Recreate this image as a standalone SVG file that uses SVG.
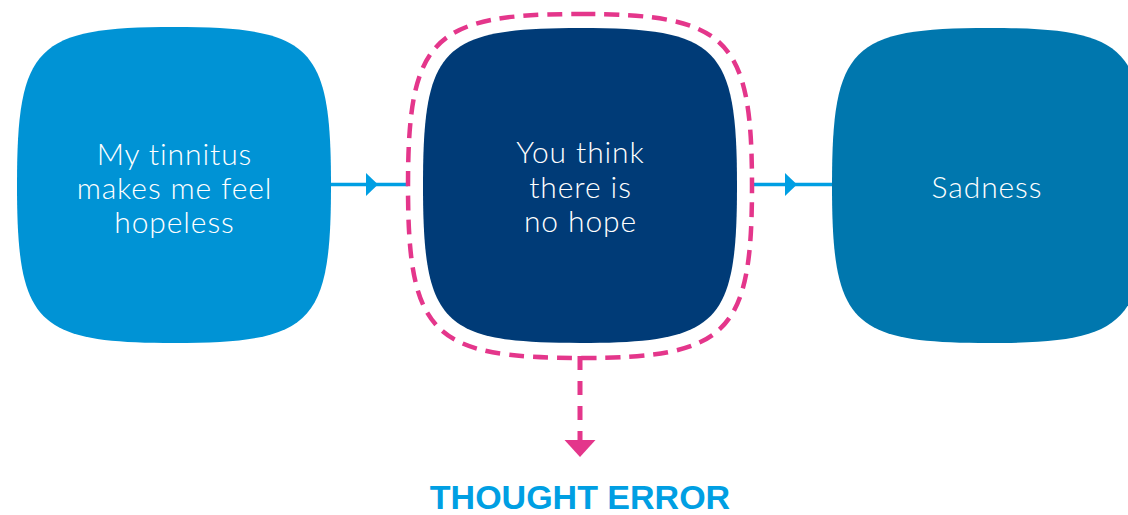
<svg xmlns="http://www.w3.org/2000/svg" width="1128" height="515" viewBox="0 0 1128 515">
  <style>
    .lbl { font-family: Lato, "Liberation Sans", Arial, sans-serif; font-weight: 300; font-size: 30px; letter-spacing: 0.9px; fill: #ffffff; text-anchor: middle; }
    .blue-conn { fill: none; stroke: #009FE3; stroke-width: 3.5; }
    .pink { fill: none; stroke: #E4368B; stroke-width: 4.5; stroke-dasharray: 15 9; }
    .pink-v { fill: none; stroke: #E4368B; stroke-width: 5; stroke-dasharray: 14 11; }
    .title { font-family: "Liberation Sans", Arial, sans-serif; font-weight: bold; font-size: 34px; fill: #009FE3; text-anchor: middle; }
  </style>
  <defs>
    <marker id="blueArrow" markerUnits="userSpaceOnUse" markerWidth="13" markerHeight="24" refX="12" refY="11.5" orient="auto" overflow="visible">
      <path d="M0,0 L12,11.5 L0,23 Z" fill="#009FE3"/>
    </marker>
    <marker id="pinkArrow" markerUnits="userSpaceOnUse" markerWidth="18" markerHeight="32" refX="0" refY="15.5" orient="auto" overflow="visible">
      <path d="M0,0 L17,15.5 L0,31 Z" fill="#E4368B"/>
    </marker>
  </defs>
  <rect width="1128" height="515" fill="#ffffff"/>

  <g id="connectors">
    <path class="blue-conn" d="M331,184.5 L378,184.5 L408,184.5" marker-mid="url(#blueArrow)"/>
    <path class="blue-conn" d="M752,184.5 L797,184.5 L832,184.5" marker-mid="url(#blueArrow)"/>
    <path class="pink-v" d="M580,356 L580,440" marker-end="url(#pinkArrow)"/>
  </g>

  <g id="node-trigger">
    <path d="M174,27 C312.2,27 331,46 331,185 C331,324 312.2,343 174,343 C35.8,343 17,324 17,185 C17,46 35.8,27 174,27 Z" fill="#0093D5"/>
    <text class="lbl" x="174.5" y="165">My tinnitus</text>
    <text class="lbl" x="174.5" y="199">makes me feel</text>
    <text class="lbl" x="174.5" y="233">hopeless</text>
  </g>

  <g id="node-thought">
    <path class="pink" d="M580,14 C727.9,14 752,38.1 752,186 C752,333.9 727.9,358 580,358 C432.1,358 408,333.9 408,186 C408,38.1 432.1,14 580,14 Z"/>
    <path d="M580,28 C718.2,28 737,46.9 737,185.5 C737,324.1 718.2,343 580,343 C441.8,343 423,324.1 423,185.5 C423,46.9 441.8,28 580,28 Z" fill="#003B77"/>
    <text class="lbl" x="580.5" y="163">You think</text>
    <text class="lbl" x="580.5" y="198">there is</text>
    <text class="lbl" x="580.5" y="232">no hope</text>
  </g>

  <g id="node-emotion">
    <path d="M989,28 C1127.2,28 1146,46.9 1146,185.5 C1146,324.1 1127.2,343 989,343 C850.8,343 832,324.1 832,185.5 C832,46.9 850.8,28 989,28 Z" fill="#0077AE"/>
    <text class="lbl" x="987" y="198">Sadness</text>
  </g>

  <g id="label-thought-error">
    <text class="title" x="580" y="509">THOUGHT ERROR</text>
  </g>
</svg>
